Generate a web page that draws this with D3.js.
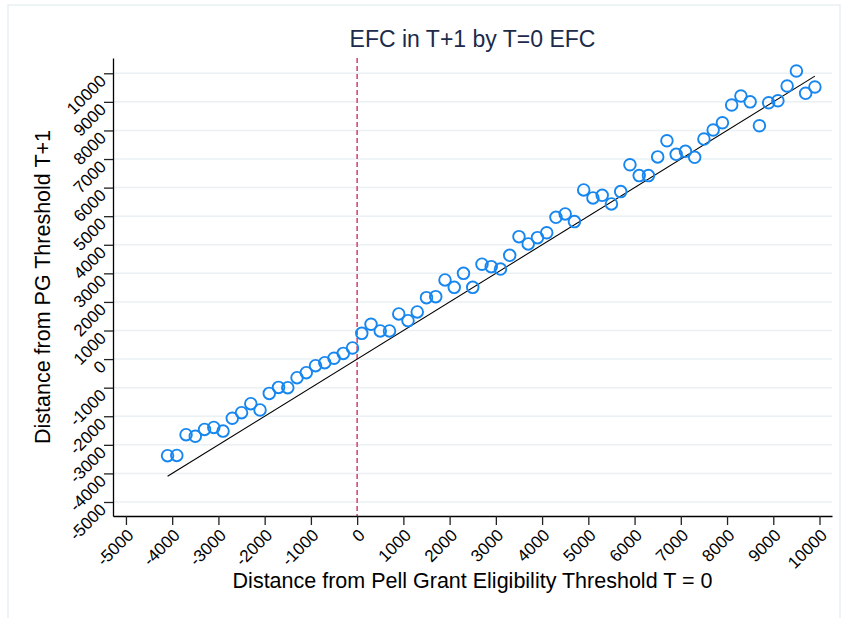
<!DOCTYPE html>
<html>
<head>
<meta charset="utf-8">
<script src="https://cdn.jsdelivr.net/npm/d3@7"></script>
<style>
  html, body { margin: 0; padding: 0; background: #fff; }
  svg { display: block; font-family: "Liberation Sans", Arial, sans-serif; }
</style>
</head>
<body>
<svg id="chart" width="844" height="618"></svg>
<script>
/* ---------- data (bins of T=0 EFC distance, mean T+1 distance) ---------- */
const binX = d3.range(-4100, 9901, 200);
const meanY = [
  -3380, -3370, -2645, -2700, -2460, -2390, -2520, -2070, -1875, -1560,
  -1780, -1200, -990, -1000, -650, -475, -230, -125, 30, 200,
  390, 900, 1220, 985, 985, 1580, 1345, 1650, 2150, 2185,
  2770, 2510, 3000, 2510, 3320, 3235, 3150, 3630, 4285, 4030,
  4250, 4420, 4960, 5080, 4810, 5920, 5640, 5730, 5430, 5860,
  6800, 6420, 6420, 7075, 7640, 7165, 7270, 7060, 7700, 8015,
  8270, 8890, 9205, 9000, 8165, 8970, 9040, 9555, 10080, 9300,
  9520
];
const fitX = [-4100, 9900];          // 45-degree reference line y = x
const xTicks = d3.range(-5000, 10001, 1000);
const yTicks = d3.range(-5000, 10001, 1000);
const cutoff = 0;

const points = binX.map((x, i) => ({ x, y: meanY[i] }));

/* ---------- layout ---------- */
const svg = d3.select("#chart");
const plot = { left: 113, right: 832, top: 58, bottom: 516 };

const x = d3.scaleLinear().domain([-5280, 10270]).range([plot.left, plot.right]);
const y = d3.scaleLinear().domain([-5490, 10535]).range([plot.bottom, plot.top]);

// outer frame
svg.append("rect")
  .attr("x", 8).attr("y", 5).attr("width", 832).attr("height", 640)
  .attr("fill", "none").attr("stroke", "#e3ecef").attr("stroke-width", 1.2);

// grid
svg.append("g")
  .selectAll("line")
  .data(yTicks)
  .join("line")
  .attr("x1", plot.left).attr("x2", plot.right)
  .attr("y1", d => y(d)).attr("y2", d => y(d))
  .attr("stroke", "#eaf0f3").attr("stroke-width", 1.5);

// cutoff line
svg.append("line")
  .attr("x1", x(cutoff)).attr("x2", x(cutoff))
  .attr("y1", plot.top).attr("y2", plot.bottom)
  .attr("stroke", "#d94a72").attr("stroke-width", 1.6)
  .attr("stroke-dasharray", "5,3");

// reference line
svg.append("line")
  .attr("x1", x(fitX[0])).attr("y1", y(fitX[0]))
  .attr("x2", x(fitX[1])).attr("y2", y(fitX[1]))
  .attr("stroke", "#000").attr("stroke-width", 1.1);

// markers
svg.append("g")
  .selectAll("circle")
  .data(points)
  .join("circle")
  .attr("cx", d => x(d.x))
  .attr("cy", d => y(d.y))
  .attr("r", 5.8)
  .attr("fill", "none")
  .attr("stroke", "#1787f0")
  .attr("stroke-width", 1.9);

/* ---------- axes ---------- */
const fmt = d => String(d);   // plain hyphen for negatives, as in the source

const xAxis = svg.append("g")
  .attr("transform", `translate(0,${plot.bottom})`)
  .call(d3.axisBottom(x).tickValues(xTicks).tickSize(9).tickSizeOuter(0).tickFormat(fmt));

const yAxis = svg.append("g")
  .attr("transform", `translate(${plot.left},0)`)
  .call(d3.axisLeft(y).tickValues(yTicks).tickSize(9).tickSizeOuter(0).tickFormat(fmt));

[xAxis, yAxis].forEach(g => {
  g.select(".domain").attr("stroke", "#000").attr("stroke-width", 1.3);
  g.selectAll(".tick line").attr("stroke", "#222").attr("stroke-width", 1.3);
  g.selectAll("text")
    .attr("fill", "#000")
    .attr("font-size", 17)
    .attr("font-family", "Liberation Sans, Arial, sans-serif");
});

// rotated tick labels
xAxis.selectAll(".tick text")
  .attr("text-anchor", "end")
  .attr("x", 0).attr("y", 0).attr("dy", "0.35em")
  .attr("transform", "translate(4,16) rotate(-45)");

yAxis.selectAll(".tick text")
  .attr("text-anchor", "end")
  .attr("x", 0).attr("y", 0).attr("dy", "0.35em")
  .attr("transform", "translate(-10,4) rotate(-45)");

/* ---------- titles ---------- */
svg.append("text")
  .attr("x", (plot.left + plot.right) / 2).attr("y", 47)
  .attr("text-anchor", "middle")
  .attr("font-size", 23).attr("fill", "#1c2b4b")
  .text("EFC in T+1 by T=0 EFC");

svg.append("text")
  .attr("x", (plot.left + plot.right) / 2).attr("y", 588)
  .attr("text-anchor", "middle")
  .attr("font-size", 21.5).attr("fill", "#000")
  .text("Distance from Pell Grant Eligibility Threshold T = 0");

svg.append("text")
  .attr("transform", `translate(50,${(plot.top + plot.bottom) / 2}) rotate(-90)`)
  .attr("text-anchor", "middle")
  .attr("font-size", 21.5).attr("fill", "#000")
  .text("Distance from PG Threshold T+1");
</script>
</body>
</html>
